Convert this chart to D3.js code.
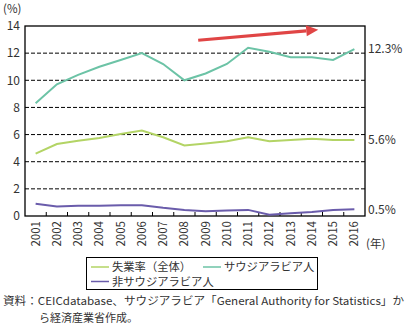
<!DOCTYPE html>
<html>
<head>
<meta charset="utf-8">
<script src="https://cdn.jsdelivr.net/npm/d3@7"></script>
<style>
  body { margin: 0; background: #fff; }
  svg { display: block; font-family: "Noto Sans CJK JP", "Noto Sans", sans-serif; }
</style>
</head>
<body>
<svg id="chart" width="409" height="331"></svg>
<script>
var years = ["2001","2002","2003","2004","2005","2006","2007","2008",
             "2009","2010","2011","2012","2013","2014","2015","2016"];

// unemployment rate (%)
var total     = [4.6, 5.3, 5.55, 5.75, 6.05, 6.3, 5.8, 5.2, 5.35, 5.5, 5.8, 5.5, 5.6, 5.7, 5.6, 5.6];
var saudi     = [8.3, 9.7, 10.4, 11.0, 11.5, 12.0, 11.2, 10.0, 10.5, 11.2, 12.4, 12.1, 11.7, 11.7, 11.5, 12.3];
var nonSaudi  = [0.9, 0.7, 0.75, 0.75, 0.8, 0.8, 0.6, 0.45, 0.35, 0.4, 0.45, 0.1, 0.2, 0.3, 0.45, 0.5];

var yTicks = [0, 2, 4, 6, 8, 10, 12, 14];
var endLabels = ["12.3%", "5.6%", "0.5%"];

// trend arrow, in (year, %) units
var arrowFrom = [2008.65, 12.95];
var arrowTo   = [2014.3, 13.72];

var series = [
  { name: "サウジアラビア人",   values: saudi,    color: "#6cc3a6" },
  { name: "失業率（全体）",     values: total,    color: "#b3d465" },
  { name: "非サウジアラビア人", values: nonSaudi, color: "#6a5cab" }
];

var svg = d3.select("#chart");
var plotL = 25, plotR = 365, plotT = 26, plotB = 216;

var x = d3.scaleBand().domain(years).range([plotL, plotR]);
var bw = x.bandwidth();
var y = d3.scaleLinear().domain([0, 14]).range([plotB, plotT]);
var xc = d3.scaleLinear().domain([2001, 2016]).range([x("2001") + bw / 2, x("2016") + bw / 2]);

// grid
svg.append("g").selectAll("line")
  .data(yTicks.filter(function(d) { return d > 0 && d < 14; }))
  .join("line")
  .attr("x1", plotL).attr("x2", plotR)
  .attr("y1", function(d) { return y(d); })
  .attr("y2", function(d) { return y(d); })
  .attr("stroke", "#000")
  .attr("stroke-width", 1)
  .attr("stroke-dasharray", "4,2");

// frame
svg.append("rect")
  .attr("x", plotL).attr("y", y(14))
  .attr("width", plotR - plotL).attr("height", y(0) - y(14))
  .attr("fill", "none").attr("stroke", "#000").attr("stroke-width", 1.3);

// y axis labels
svg.append("g").selectAll("text")
  .data(yTicks)
  .join("text")
  .attr("x", 20)
  .attr("y", function(d) { return y(d); })
  .attr("dy", "0.36em")
  .attr("text-anchor", "end")
  .attr("font-size", 12)
  .attr("fill", "#333")
  .text(function(d) { return d; });

svg.append("text")
  .attr("x", 3).attr("y", 13)
  .attr("font-size", 11.5).attr("fill", "#333")
  .text("(%)");

// x ticks sit on the band edges, pointing inward
svg.append("g").selectAll("line")
  .data(years.slice(1))
  .join("line")
  .attr("x1", function(d) { return x(d); })
  .attr("x2", function(d) { return x(d); })
  .attr("y1", plotB).attr("y2", plotB - 4)
  .attr("stroke", "#000");

svg.append("g").selectAll("text")
  .data(years)
  .join("text")
  .attr("transform", function(d) {
    return "translate(" + (x(d) + bw / 2 + 4) + "," + (plotB + 5) + ") rotate(-90)";
  })
  .attr("text-anchor", "end")
  .attr("font-size", 11.5)
  .attr("fill", "#333")
  .text(function(d) { return d; });

svg.append("text")
  .attr("x", 366).attr("y", 248)
  .attr("font-size", 11.5).attr("fill", "#333")
  .text("(年)");

// lines
var line = d3.line()
  .x(function(d, i) { return x(years[i]) + bw / 2; })
  .y(function(d) { return y(d); });

svg.append("g").selectAll("path")
  .data(series)
  .join("path")
  .attr("d", function(s) { return line(s.values); })
  .attr("fill", "none")
  .attr("stroke", function(s) { return s.color; })
  .attr("stroke-width", 2);

// end values
svg.append("g").selectAll("text")
  .data(series)
  .join("text")
  .attr("x", 368)
  .attr("y", function(s) { return y(s.values[s.values.length - 1]); })
  .attr("dy", "0.36em")
  .attr("font-size", 12)
  .attr("fill", "#333")
  .text(function(s, i) { return endLabels[i]; });

// red trend arrow
var ax0 = xc(arrowFrom[0]), ay0 = y(arrowFrom[1]);
var ax1 = xc(arrowTo[0]), ay1 = y(arrowTo[1]);
var ang = Math.atan2(ay1 - ay0, ax1 - ax0);
var headLen = 12, headW = 5.5;
var bx = ax1 - headLen * Math.cos(ang), by = ay1 - headLen * Math.sin(ang);
svg.append("line")
  .attr("x1", ax0).attr("y1", ay0)
  .attr("x2", bx).attr("y2", by)
  .attr("stroke", "#e04545").attr("stroke-width", 3.2);
svg.append("path")
  .attr("d", "M" + ax1 + "," + ay1 +
    "L" + (bx - headW * Math.sin(ang)) + "," + (by + headW * Math.cos(ang)) +
    "L" + (bx + headW * Math.sin(ang)) + "," + (by - headW * Math.cos(ang)) + "Z")
  .attr("fill", "#e04545");

// legend
var legend = svg.append("g");
legend.append("rect")
  .attr("x", 86.5).attr("y", 257.5)
  .attr("width", 231).attr("height", 32)
  .attr("fill", "#fff").attr("stroke", "#000").attr("stroke-width", 1);

var legendItems = [
  { s: series[1], x: 91,  y: 267 },
  { s: series[0], x: 203, y: 267 },
  { s: series[2], x: 91,  y: 281.5 }
];
legendItems.forEach(function(it) {
  legend.append("line")
    .attr("x1", it.x).attr("x2", it.x + 18)
    .attr("y1", it.y).attr("y2", it.y)
    .attr("stroke", it.s.color).attr("stroke-width", 1.5);
  legend.append("text")
    .attr("x", it.x + 21).attr("y", it.y)
    .attr("dy", "0.36em")
    .attr("font-size", 11.3)
    .attr("fill", "#333")
    .text(it.s.name);
});

// source note
svg.append("text")
  .attr("x", 3).attr("y", 305)
  .attr("font-size", 11).attr("fill", "#333")
  .attr("textLength", 401).attr("lengthAdjust", "spacingAndGlyphs")
  .text("資料：CEICdatabase、サウジアラビア「General Authority for Statistics」か");
svg.append("text")
  .attr("x", 39).attr("y", 321.5)
  .attr("font-size", 11).attr("fill", "#333")
  .text("ら経済産業省作成。");
</script>
</body>
</html>
